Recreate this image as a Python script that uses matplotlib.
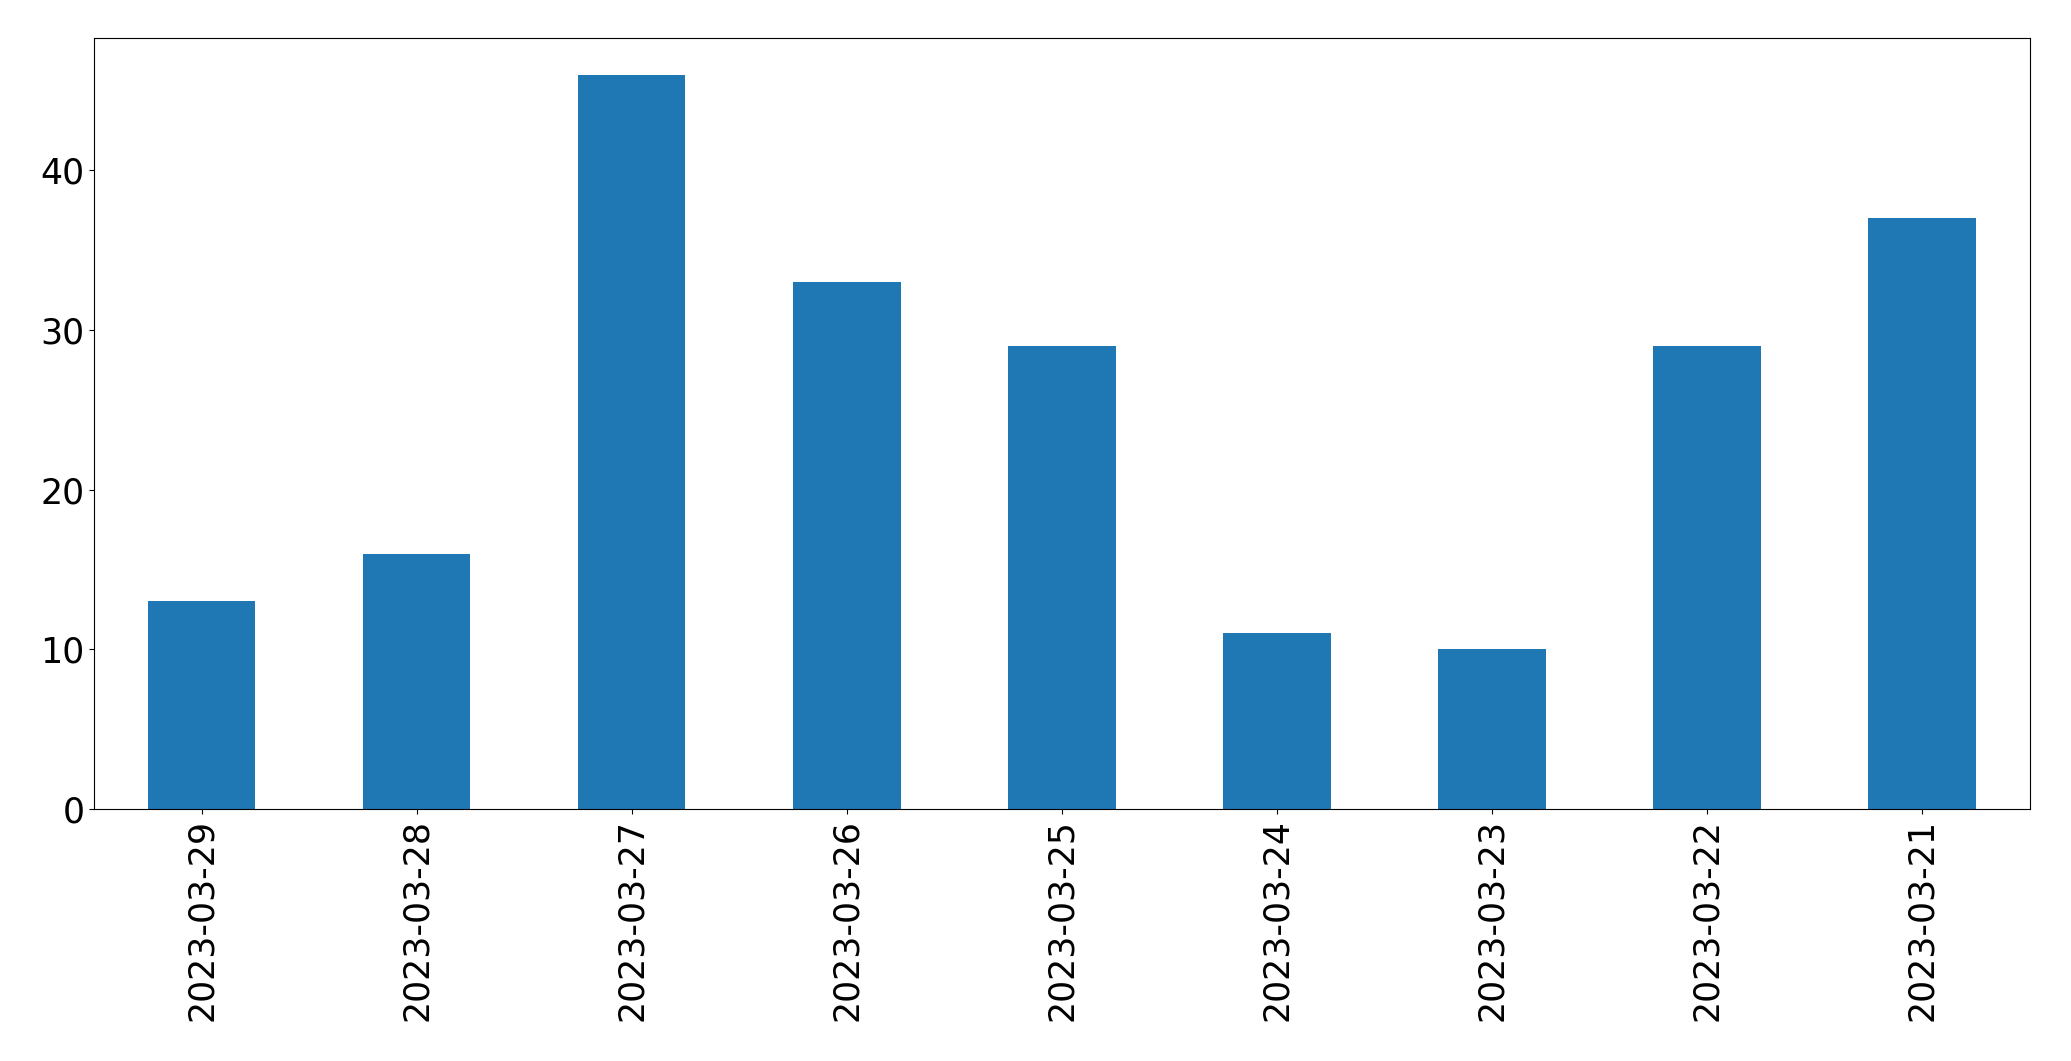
import matplotlib
matplotlib.use("Agg")
import matplotlib.pyplot as plt
import numpy as np

# daily counts, newest first (as in the reference)
dates = ["2023-03-29", "2023-03-28", "2023-03-27", "2023-03-26", "2023-03-25",
         "2023-03-24", "2023-03-23", "2023-03-22", "2023-03-21"]
counts = [13, 16, 46, 33, 29, 11, 10, 29, 37]

fig = plt.figure(figsize=(20.71, 10.61), dpi=100)
ax = fig.add_axes([0.0454, 0.2375, 0.9346, 0.7267])

x = np.arange(len(dates))
ax.bar(x, counts, width=0.5, color="#1f77b4")
ax.set_xlim(-0.5, len(dates) - 0.5)
ax.set_xticks(x)
ax.set_xticklabels(dates, rotation=90)
ax.tick_params(axis="both", labelsize=25)

fig.savefig("out.png", dpi=100)
